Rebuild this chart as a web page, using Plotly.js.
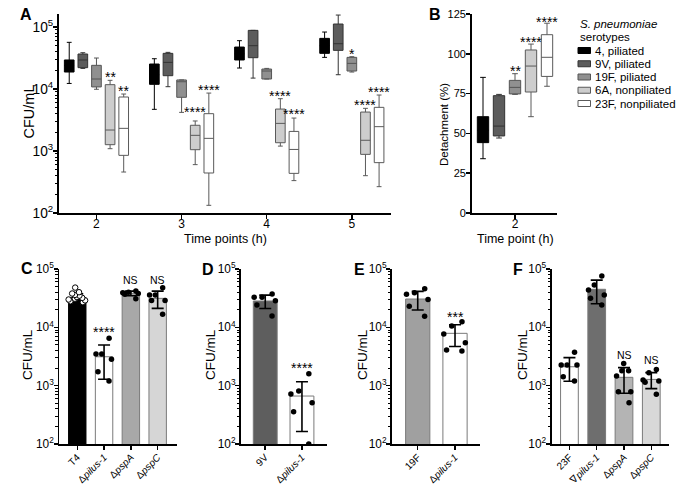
<!DOCTYPE html>
<html><head><meta charset="utf-8">
<script src="https://cdn.plot.ly/plotly-3.0.1.min.js"></script>
<style>body{margin:0;background:#fff}#chart{width:700px;height:488px}</style>
</head><body><div id="chart"></div>
<script>
// ---------------- DATA ----------------
// Panel A: box stats per serotype (rows) at each time point (columns)
const timePoints = [2, 3, 4, 5];
const serotypes = ['4, piliated', '9V, piliated', '19F, piliated', '6A, nonpiliated', '23F, nonpiliated'];
const A_low  = [[12300, 4700, 21800, 32400], [21500, 10900, 15000, 17000], [9900, 4200, 14500, 18800], [1090, 603, 1200, 400], [458, 133, 333, 266]];
const A_q1   = [[18800, 11900, 29400, 37600], [22100, 16400, 32000, 42000], [10800, 7350, 14500, 19500], [1265, 1050, 1360, 883], [851, 442, 436, 649]];
const A_med  = [[24000, 17000, 37000, 50000], [29400, 26900, 50000, 53800], [14500, 13100, 19500, 25900], [2180, 1790, 2790, 1490], [2320, 1600, 1060, 2470]];
const A_q3   = [[29400, 25300, 47500, 65600], [36700, 37600, 88300, 111800], [24100, 14000, 21000, 32400], [11750, 2600, 4750, 4250], [7430, 4000, 2070, 5060]];
const A_high = [[56600, 30800, 60200, 83000], [38500, 39000, 88300, 156000], [31600, 14000, 21500, 33200], [13800, 3050, 6980, 4880], [8300, 8600, 3400, 8000]];
const A_starTime  = [2, 2, 3, 3, 4, 4, 5, 5, 5];
const A_starSero  = [3, 4, 3, 4, 3, 4, 2, 3, 4];
const A_starText  = ['**', '**', '****', '****', '****', '****', '*', '****', '****'];
const A_starValue = [17500, 10400, 4820, 10900, 8500, 4360, 41500, 6250, 10000];

// Panel B: detachment (%) at 2 h
const B_time = 2;
const B_low  = [34.1, 47.1, 74.5, 60.5, 79.6];
const B_q1   = [44.2, 48.4, 74.8, 76.0, 85.8];
const B_med  = [52.0, 54.6, 78.9, 92.3, 97.8];
const B_q3   = [60.5, 73.7, 83.3, 102.4, 112.0];
const B_high = [85.2, 74.5, 87.5, 106.1, 119.2];
const B_starText  = ['', '', '**', '****', '****'];
const B_starValue = [null, null, 90.9, 109, 122];

// Panel C
const C_cats = ['T4', 'Δ<i>pilus-1</i>', 'Δ<i>pspA</i>', 'Δ<i>pspC</i>'];
const C_mean = [32200, 3130, 38300, 31400];
const C_sd   = [5500, 1840, 3500, 10300];
const C_pts  = [
  [48000, 40000, 38000, 36000, 35000, 33000, 32000, 31000, 30000, 29000, 28000, 27000],
  [6480, 3480, 3480, 2830, 1730, 1200],
  [42000, 40000, 39000, 38000, 37000, 31000],
  [47800, 35800, 35800, 28700, 28700, 16700]
];
const C_labels = ['', '****', 'NS', 'NS'];
const C_labelValue = [null, 9300, 65000, 66000];

// Panel D
const D_cats = ['9V', 'Δ<i>pilus-1</i>'];
const D_mean = [28300, 664];
const D_sd   = [7300, 500];
const D_pts  = [[32700, 32700, 37200, 28600, 24200, 15600], [1600, 807, 718, 509, 357, 100]];
const D_labels = ['', '****'];
const D_labelValue = [null, 2290];

// Panel E
const E_cats = ['19F', 'Δ<i>pilus-1</i>'];
const E_mean = [30600, 7890];
const E_sd   = [10800, 3200];
const E_pts  = [[46000, 39000, 37000, 30000, 23000, 15500], [12500, 10500, 7670, 5450, 4090, 3930]];
const E_labels = ['', '***'];
const E_labelValue = [null, 16700];

// Panel F
const F_cats = ['23F', '∇<i>pilus-1</i>', 'Δ<i>pspA</i>', 'Δ<i>pspC</i>'];
const F_mean = [2110, 44900, 1390, 1280];
const F_sd   = [920, 19500, 650, 390];
const F_pts  = [
  [3730, 2250, 2250, 2250, 1420, 1200],
  [75900, 53200, 43700, 35800, 31400, 24100],
  [2410, 1800, 1800, 1460, 787, 787, 509],
  [1900, 1660, 1250, 1200, 1150, 710]
];
const F_labels = ['', '****', 'NS', 'NS'];
const F_labelValue = [null, 105000, 3350, 2750];

// ---------------- STYLE ----------------
const FONT = 'Liberation Sans, Arial, Helvetica, sans-serif';
const W = 700, H = 488;
const seroFill = ['#000000', '#5c5c5c', '#909090', '#cdcdcd', '#ffffff'];
const seroLine = ['#000000', '#333333', '#555555', '#5a5a5a', '#5a5a5a'];
const C_colors = ['#000000', '#ffffff', '#a8a8a8', '#d6d6d6'];
const D_colors = ['#5e5e5e', '#ffffff'];
const E_colors = ['#a0a0a0', '#ffffff'];
const F_colors = ['#ffffff', '#6e6e6e', '#b4b4b4', '#d8d8d8'];
const BOXGAP = 0.2, BOXGROUPGAP = 0.29;

function xd(a, b) { return [a / W, b / W]; }
function yd(top, bot) { return [1 - bot / H, 1 - top / H]; }

const traces = [];
// Panel A boxes (offsetgroup per serotype, shared with panel B)
serotypes.forEach((s, i) => {
  traces.push({
    type: 'box', xaxis: 'x', yaxis: 'y', name: s, showlegend: false, offsetgroup: 'sero' + i,
    x: timePoints, q1: A_q1[i], median: A_med[i], q3: A_q3[i],
    lowerfence: A_low[i], upperfence: A_high[i],
    fillcolor: seroFill[i], line: { color: seroLine[i], width: 1 }, whiskerwidth: 0.5,
    boxpoints: false, hoverinfo: 'skip'
  });
});
// Panel B boxes
serotypes.forEach((s, i) => {
  traces.push({
    type: 'box', xaxis: 'x2', yaxis: 'y2', name: s, showlegend: false, offsetgroup: 'sero' + i,
    x: [B_time], q1: [B_q1[i]], median: [B_med[i]], q3: [B_q3[i]],
    lowerfence: [B_low[i]], upperfence: [B_high[i]],
    fillcolor: seroFill[i], line: { color: seroLine[i], width: 1 }, whiskerwidth: 0.5,
    boxpoints: false, hoverinfo: 'skip'
  });
});

function barPanel(xa, ya, cats, mean, sd, pts, colors, openFirst) {
  traces.push({
    type: 'bar', xaxis: xa, yaxis: ya, x: cats, y: mean, showlegend: false,
    marker: { color: colors, line: { color: colors.map(c => c === '#000000' ? '#000000' : '#7a7a7a'), width: 1 } },
    error_y: { type: 'data', array: sd, visible: true, color: '#000', thickness: 1.6, width: 6 },
    hoverinfo: 'skip'
  });
  // individual points: invisible violins used only for their jittered points
  cats.forEach((c, i) => {
    const open = openFirst && i === 0;
    traces.push({
      type: 'violin', xaxis: xa, yaxis: ya, showlegend: false,
      x: pts[i].map(() => c), y: pts[i], points: 'all', jitter: 0.95, pointpos: 0, width: open ? 0.85 : 0.75,
      fillcolor: 'rgba(0,0,0,0)', line: { color: 'rgba(0,0,0,0)', width: 0 },
      box: { visible: false }, meanline: { visible: false },
      marker: { color: open ? '#ffffff' : '#000000', size: 5.5, line: { color: '#000', width: open ? 1 : 0 } },
      hoverinfo: 'skip'
    });
  });
}
barPanel('x3', 'y3', C_cats, C_mean, C_sd, C_pts, C_colors, true);
barPanel('x4', 'y4', D_cats, D_mean, D_sd, D_pts, D_colors, false);
barPanel('x5', 'y5', E_cats, E_mean, E_sd, E_pts, E_colors, false);
barPanel('x6', 'y6', F_cats, F_mean, F_sd, F_pts, F_colors, false);

// ---------------- AXES ----------------
const tickF = (s) => ({ family: FONT, size: s, color: '#000' });
const base = {
  showline: true, linecolor: '#000', linewidth: 1.6, ticks: 'outside', ticklen: 4, tickwidth: 1.5,
  tickcolor: '#000', showgrid: false, zeroline: false, fixedrange: true, automargin: false
};
const logY = (dom, top, fs) => Object.assign({}, base, {
  domain: dom, type: 'log', range: [2, top], dtick: 1, exponentformat: 'power', tickfont: tickF(fs),
  ticklabelstandoff: -2,
  minor: { ticks: 'outside', ticklen: 2.5, tickwidth: 1, tickcolor: '#000', dtick: 'D1', showgrid: false }
});
const catX = (dom, cats, r, anchor) => Object.assign({}, base, {
  domain: dom, type: 'category', categoryorder: 'array', categoryarray: cats, range: r,
  tickangle: -45, tickfont: tickF(10), anchor: anchor, ticklabelstandoff: -2
});

const topDom = yd(14, 213), botDom = yd(269, 444);
const layout = {
  width: W, height: H, margin: { l: 0, r: 0, t: 0, b: 0 },
  paper_bgcolor: '#fff', plot_bgcolor: '#fff', font: { family: FONT, color: '#000' },
  boxmode: 'group', boxgap: BOXGAP, boxgroupgap: BOXGROUPGAP, violinmode: 'overlay', bargap: 0.35, showlegend: false,
  xaxis: Object.assign({}, base, { domain: xd(59, 391), range: [1.56, 5.46], tickvals: timePoints, tickfont: tickF(12), anchor: 'y', ticklabelstandoff: -5 }),
  yaxis: Object.assign(logY(topDom, 5.21, 11), { anchor: 'x' }),
  xaxis2: Object.assign({}, base, { domain: xd(471.7, 556.7), range: [1.567, 2.417], tickvals: [B_time], tickfont: tickF(12), anchor: 'y2', ticklabelstandoff: -5 }),
  yaxis2: Object.assign({}, base, { domain: topDom, range: [0, 125], dtick: 25, tickfont: tickF(11), anchor: 'x2', ticklabelstandoff: -2 }),
  xaxis3: catX(xd(59.3, 176.7), C_cats, [-0.67, 3.71], 'y3'),
  yaxis3: Object.assign(logY(botDom, 5, 9.5), { anchor: 'x3' }),
  xaxis4: catX(xd(241, 327.3), D_cats, [-0.66, 1.69], 'y4'),
  yaxis4: Object.assign(logY(botDom, 5, 9.5), { anchor: 'x4' }),
  xaxis5: catX(xd(392, 480), E_cats, [-0.69, 1.67], 'y5'),
  yaxis5: Object.assign(logY(botDom, 5, 9.5), { anchor: 'x5' }),
  xaxis6: catX(xd(551.7, 669.3), F_cats, [-0.65, 3.66], 'y6'),
  yaxis6: Object.assign(logY(botDom, 5, 9.5), { anchor: 'x6' }),
  annotations: [], shapes: []
};

// axis titles (placed as paper annotations)
const axisTitles = [
  ['CFU/mL', 28.5, 112, -90, 14.5], ['Time points (h)', 225, 239, 0, 12.5],
  ['Detachment (%)', 444, 124, -90, 11.5], ['Time point (h)', 515, 239, 0, 12.5],
  ['CFU/mL', 27, 355, -90, 13.5], ['CFU/mL', 210, 355, -90, 13.5],
  ['CFU/mL', 362, 355, -90, 13.5], ['CFU/mL', 522, 355, -90, 13.5]
];
axisTitles.forEach(([t, px, py, ang, fs]) => {
  layout.annotations.push({ xref: 'paper', yref: 'paper', x: px / W, y: 1 - py / H, text: t, textangle: ang,
    showarrow: false, font: tickF(fs), xanchor: 'center', yanchor: 'middle' });
});

// significance labels
const slotW = (1 - BOXGAP) / serotypes.length;
const starStyle = (t) => (t === 'NS' ? { font: tickF(10.5), yshift: 0 } : { font: { family: FONT, size: 14, color: '#000' }, yshift: -3 });
A_starText.forEach((t, k) => {
  const st = starStyle(t);
  layout.annotations.push({ xref: 'x', yref: 'y', x: A_starTime[k] + (A_starSero[k] - 2) * slotW, y: Math.log10(A_starValue[k]),
    text: t, showarrow: false, font: st.font, yshift: st.yshift, yanchor: 'middle' });
});
B_starText.forEach((t, i) => {
  if (!t) return;
  const st = starStyle(t);
  layout.annotations.push({ xref: 'x2', yref: 'y2', x: B_time + (i - 2) * slotW, y: B_starValue[i],
    text: t, showarrow: false, font: st.font, yshift: st.yshift, yanchor: 'middle' });
});
[['x3', 'y3', C_labels, C_labelValue], ['x4', 'y4', D_labels, D_labelValue], ['x5', 'y5', E_labels, E_labelValue], ['x6', 'y6', F_labels, F_labelValue]]
  .forEach(([xa, ya, labs, vals]) => labs.forEach((t, i) => {
    if (!t) return;
    const st = starStyle(t);
    layout.annotations.push({ xref: xa, yref: ya, x: i, y: Math.log10(vals[i]), text: t, showarrow: false,
      font: st.font, yshift: st.yshift, yanchor: 'middle' });
  }));

// panel letters
[['A', 26, 15], ['B', 435, 15], ['C', 27, 268], ['D', 208, 269], ['E', 359, 269], ['F', 518, 269]].forEach(([t, px, py]) => {
  layout.annotations.push({ xref: 'paper', yref: 'paper', x: px / W, y: 1 - py / H, text: '<b>' + t + '</b>', showarrow: false,
    font: { family: FONT, size: 16, color: '#000' }, xanchor: 'center', yanchor: 'middle' });
});

// legend for serotypes (panel B)
const LEG_X = 578, LEG_Y0 = 50.5, LEG_DY = 13.25;
layout.annotations.push({ xref: 'paper', yref: 'paper', x: LEG_X / W, y: 1 - 24 / H, xanchor: 'left', yanchor: 'middle',
  text: '<i>S. pneumoniae</i>', showarrow: false, font: tickF(11.5) });
layout.annotations.push({ xref: 'paper', yref: 'paper', x: LEG_X / W, y: 1 - 37.3 / H, xanchor: 'left', yanchor: 'middle',
  text: 'serotypes', showarrow: false, font: tickF(11.5) });
serotypes.forEach((s, i) => {
  const cy = LEG_Y0 + i * LEG_DY;
  layout.shapes.push({ type: 'rect', xref: 'paper', yref: 'paper', x0: LEG_X / W, x1: (LEG_X + 12.5) / W,
    y0: 1 - (cy + 3) / H, y1: 1 - (cy - 3) / H, fillcolor: seroFill[i], line: { color: seroLine[i], width: 1 } });
  layout.annotations.push({ xref: 'paper', yref: 'paper', x: (LEG_X + 15) / W, y: 1 - cy / H, xanchor: 'left', yanchor: 'middle',
    text: s, showarrow: false, font: tickF(11.5) });
});

Plotly.newPlot('chart', traces, layout, { staticPlot: true, displayModeBar: false });
</script>
</body></html>
